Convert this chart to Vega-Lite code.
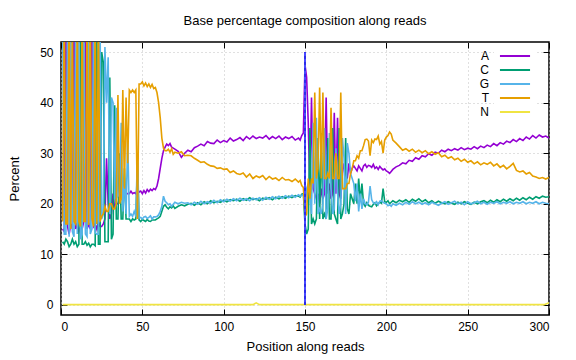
{
"$schema":"https://vega.github.io/schema/vega-lite/v6.json",
"width":488,"height":273,
"autosize":{"type":"none"},
"padding":{"left":61,"top":42,"right":27,"bottom":45},
"title":{"text":"Base percentage composition along reads","fontSize":13,"fontWeight":"normal","font":"Liberation Sans","offset":14,"color":"black"},
"datasets":{
"main":[
{"x":1,"A":15,"C":12.5,"G":56,"T":16.5},
{"x":2,"A":14.5,"C":12,"G":14,"T":59.5},
{"x":3,"A":57,"C":13,"G":14,"T":16},
{"x":4,"A":15.5,"C":12.5,"G":56,"T":16},
{"x":5,"A":14,"C":11.5,"G":13.5,"T":61},
{"x":6,"A":16,"C":12,"G":57,"T":15},
{"x":7,"A":15,"C":13,"G":14.5,"T":57.5},
{"x":8,"A":58,"C":12,"G":13.5,"T":16.5},
{"x":9,"A":15,"C":12.5,"G":56.5,"T":16},
{"x":10,"A":16,"C":11.5,"G":14,"T":58.5},
{"x":11,"A":14.5,"C":12,"G":57,"T":16.5},
{"x":12,"A":15.5,"C":56,"G":13,"T":15.5},
{"x":13,"A":15,"C":12,"G":14,"T":59},
{"x":14,"A":16.5,"C":12,"G":55,"T":16.5},
{"x":15,"A":57,"C":12.5,"G":14,"T":16.5},
{"x":16,"A":15,"C":11.8,"G":13.5,"T":59.7},
{"x":17,"A":16,"C":12.2,"G":56,"T":15.8},
{"x":18,"A":15,"C":11.5,"G":14,"T":59.5},
{"x":19,"A":56,"C":12,"G":15,"T":17},
{"x":20,"A":15.5,"C":12,"G":57,"T":15.5},
{"x":21,"A":16,"C":11.7,"G":14.3,"T":58},
{"x":22,"A":15,"C":55,"G":14,"T":16},
{"x":23,"A":16.5,"C":12,"G":14,"T":57.5},
{"x":24,"A":15.5,"C":12,"G":56,"T":16.5},
{"x":25,"A":15.5,"C":50,"G":17,"T":17.5},
{"x":26,"A":16,"C":48,"G":18,"T":18},
{"x":27,"A":17,"C":12.5,"G":51,"T":19.5},
{"x":28,"A":29,"C":12.5,"G":40,"T":18.5},
{"x":29,"A":20,"C":12.5,"G":49,"T":18.5},
{"x":30,"A":17,"C":45,"G":18,"T":20},
{"x":31,"A":18,"C":13,"G":41,"T":20},
{"x":32,"A":22,"C":14,"G":40,"T":19},
{"x":33,"A":19,"C":39.5,"G":21,"T":19},
{"x":34,"A":20,"C":17,"G":39,"T":20},
{"x":35,"A":20,"C":17,"G":21.5,"T":41.5},
{"x":36,"A":21,"C":30,"G":22,"T":20},
{"x":37,"A":21,"C":17,"G":36,"T":21},
{"x":38,"A":22,"C":17,"G":18.5,"T":42.5},
{"x":39,"A":22,"C":27,"G":25,"T":23},
{"x":40,"A":22,"C":17,"G":18,"T":41},
{"x":41,"A":22,"C":17,"G":33,"T":28},
{"x":42,"A":22,"C":17,"G":17.5,"T":42.5},
{"x":43,"A":22.5,"C":16.5,"G":18,"T":42},
{"x":44,"A":22,"C":17,"G":17.5,"T":42.5},
{"x":45,"A":22.2,"C":16.8,"G":18.5,"T":42},
{"x":46,"A":22,"C":17,"G":17.5,"T":42.5},
{"x":47,"A":23,"C":28,"G":30,"T":17},
{"x":48,"A":22.3,"C":16.8,"G":17.2,"T":43.7},
{"x":49,"A":22.5,"C":16.5,"G":17.3,"T":43.7},
{"x":50,"A":22,"C":16.9,"G":17,"T":44.1},
{"x":51,"A":22.6,"C":16.7,"G":17.4,"T":43.3},
{"x":52,"A":22.1,"C":16.5,"G":17.5,"T":43.9},
{"x":53,"A":22.8,"C":16.9,"G":17.1,"T":43.2},
{"x":54,"A":22.4,"C":16.6,"G":17.3,"T":43.7},
{"x":55,"A":22.9,"C":16.5,"G":17.6,"T":43},
{"x":56,"A":22.6,"C":16.8,"G":17,"T":43.6},
{"x":57,"A":23,"C":16.8,"G":17.4,"T":42.8},
{"x":58,"A":22.8,"C":16.8,"G":17.4,"T":43},
{"x":59,"A":23.5,"C":17,"G":17.5,"T":42},
{"x":60,"A":25,"C":17.2,"G":17.8,"T":40},
{"x":61,"A":27,"C":17.5,"G":18.5,"T":37},
{"x":62,"A":29,"C":18.5,"G":19.5,"T":33},
{"x":63,"A":30.5,"C":19.5,"G":21.5,"T":31},
{"x":64,"A":31.2,"C":19.8,"G":20.5,"T":30.5},
{"x":65,"A":31.8,"C":19.3,"G":20.2,"T":30.5},
{"x":66,"A":31.5,"C":19,"G":19.8,"T":30.8},
{"x":67,"A":31.9,"C":19.4,"G":20,"T":30.2},
{"x":68,"A":31.2,"C":19.2,"G":19.5,"T":30.9},
{"x":69,"A":31,"C":19.6,"G":19.9,"T":29.8},
{"x":70,"A":30.8,"C":19.1,"G":20.3,"T":30.2},
{"x":72,"A":30.4,"C":19.5,"G":20,"T":30},
{"x":74,"A":29.2,"C":19.8,"G":20.3,"T":30.3},
{"x":76,"A":30,"C":19.6,"G":20.1,"T":29.5},
{"x":78,"A":30.6,"C":19.9,"G":20.2,"T":29.6},
{"x":80,"A":30.3,"C":20.1,"G":19.8,"T":29.5},
{"x":82,"A":31.1,"C":19.7,"G":20.3,"T":29},
{"x":84,"A":31.4,"C":20.2,"G":19.9,"T":28.6},
{"x":86,"A":31.8,"C":19.8,"G":20.5,"T":28.2},
{"x":88,"A":31.5,"C":20.4,"G":20,"T":28.3},
{"x":90,"A":32.3,"C":20,"G":20.4,"T":27.8},
{"x":92,"A":32,"C":20.6,"G":20.1,"T":27.5},
{"x":94,"A":31.9,"C":20.2,"G":20.7,"T":27.4},
{"x":96,"A":32.6,"C":20.5,"G":20.2,"T":27},
{"x":98,"A":32.1,"C":20.3,"G":20.8,"T":27.1},
{"x":100,"A":32.5,"C":20.7,"G":20.4,"T":26.8},
{"x":102,"A":32.2,"C":20.4,"G":20.9,"T":26.9},
{"x":104,"A":33,"C":20.8,"G":20.5,"T":26.2},
{"x":106,"A":32.4,"C":20.6,"G":21,"T":26.5},
{"x":108,"A":32.7,"C":20.9,"G":20.6,"T":26},
{"x":110,"A":33.1,"C":20.5,"G":21.1,"T":25.8},
{"x":112,"A":32.5,"C":21,"G":20.7,"T":26.1},
{"x":114,"A":33.3,"C":20.7,"G":21,"T":25.3},
{"x":116,"A":32.8,"C":21.2,"G":20.6,"T":25.9},
{"x":118,"A":33.4,"C":20.8,"G":21.1,"T":25},
{"x":120,"A":32.9,"C":21,"G":20.8,"T":25.5},
{"x":122,"A":33.2,"C":20.6,"G":21.2,"T":25.2},
{"x":124,"A":33,"C":21.1,"G":20.7,"T":25.6},
{"x":126,"A":33.5,"C":20.9,"G":21.3,"T":24.8},
{"x":128,"A":32.8,"C":21.2,"G":20.9,"T":25.4},
{"x":130,"A":33.3,"C":20.8,"G":21.4,"T":24.9},
{"x":132,"A":32.9,"C":21.3,"G":21,"T":25.1},
{"x":134,"A":33.4,"C":21,"G":21.5,"T":24.6},
{"x":136,"A":32.7,"C":21.4,"G":21.1,"T":25.2},
{"x":138,"A":33.2,"C":21.1,"G":21.6,"T":24.7},
{"x":140,"A":32.9,"C":21.5,"G":21.2,"T":24.8},
{"x":142,"A":33.3,"C":21.2,"G":21.7,"T":24.4},
{"x":144,"A":32.6,"C":21.6,"G":21.3,"T":24.9},
{"x":146,"A":33,"C":21.5,"G":21.8,"T":24.3},
{"x":147,"A":32.6,"C":21.3,"G":21.5,"T":24.6},
{"x":148,"A":33.5,"C":21.9,"G":21.7,"T":23.6},
{"x":149,"A":34,"C":22,"G":21.8,"T":23.2},
{"x":150,"A":47.5,"C":16,"G":19,"T":17.5},
{"x":151,"A":45,"C":14,"G":23,"T":18},
{"x":152,"A":36,"C":15,"G":24,"T":25},
{"x":153,"A":22,"C":35,"G":22,"T":21},
{"x":154,"A":41,"C":16,"G":18,"T":25},
{"x":155,"A":23,"C":17,"G":36,"T":24},
{"x":156,"A":22,"C":16,"G":20,"T":42},
{"x":157,"A":21,"C":17,"G":37,"T":25},
{"x":158,"A":22,"C":33,"G":18,"T":27},
{"x":159,"A":20,"C":17,"G":19,"T":43},
{"x":160,"A":23,"C":34,"G":18,"T":25},
{"x":161,"A":21,"C":17,"G":20,"T":42},
{"x":162,"A":22,"C":18,"G":35,"T":25},
{"x":163,"A":41,"C":17,"G":17,"T":25},
{"x":164,"A":22,"C":33,"G":19,"T":26},
{"x":165,"A":24,"C":17,"G":34,"T":25},
{"x":166,"A":21,"C":17,"G":23,"T":39},
{"x":167,"A":22,"C":35,"G":18,"T":25},
{"x":168,"A":38,"C":18,"G":19,"T":25},
{"x":169,"A":22,"C":17,"G":31,"T":30},
{"x":170,"A":37,"C":16,"G":22,"T":25},
{"x":171,"A":22,"C":35,"G":18,"T":25},
{"x":172,"A":21,"C":17,"G":20,"T":42},
{"x":173,"A":26,"C":18,"G":33,"T":23},
{"x":174,"A":28,"C":20,"G":29,"T":23},
{"x":175,"A":26,"C":33,"G":18,"T":23},
{"x":176,"A":25,"C":19,"G":32,"T":24},
{"x":177,"A":28,"C":18,"G":30,"T":24},
{"x":178,"A":26,"C":22,"G":26,"T":26},
{"x":179,"A":27,"C":21,"G":25,"T":27},
{"x":180,"A":27.5,"C":20,"G":24,"T":28.5},
{"x":181,"A":27,"C":24,"G":20.5,"T":28.5},
{"x":182,"A":26.5,"C":20,"G":24,"T":29.5},
{"x":183,"A":27.5,"C":25,"G":18.5,"T":29},
{"x":184,"A":27,"C":20.5,"G":22,"T":30.5},
{"x":185,"A":26.5,"C":24,"G":19,"T":30.5},
{"x":186,"A":27.5,"C":20,"G":21,"T":31.5},
{"x":187,"A":27.8,"C":19.5,"G":20,"T":32.7},
{"x":188,"A":27.2,"C":20.2,"G":19.8,"T":32.8},
{"x":189,"A":27.6,"C":19.7,"G":20.3,"T":32.4},
{"x":190,"A":27.5,"C":19.5,"G":23.5,"T":29.5},
{"x":191,"A":27.2,"C":19.4,"G":20.8,"T":32.6},
{"x":192,"A":27.8,"C":19.9,"G":20.2,"T":32.1},
{"x":193,"A":27,"C":20.2,"G":20,"T":32.8},
{"x":194,"A":27.3,"C":19.6,"G":20.4,"T":32.7},
{"x":195,"A":26.8,"C":20,"G":19.8,"T":33.4},
{"x":196,"A":27.4,"C":20.3,"G":20.5,"T":31.8},
{"x":197,"A":27,"C":20.1,"G":20.6,"T":32.3},
{"x":198,"A":26.7,"C":23,"G":20.3,"T":30},
{"x":199,"A":26.9,"C":20.4,"G":20.1,"T":32.6},
{"x":200,"A":26.5,"C":20.3,"G":20,"T":33.2},
{"x":201,"A":26.3,"C":20.6,"G":19.6,"T":33.5},
{"x":202,"A":26,"C":20,"G":19.8,"T":34.2},
{"x":203,"A":26.4,"C":20.3,"G":19.5,"T":33.8},
{"x":204,"A":26.8,"C":20.6,"G":20,"T":32.6},
{"x":206,"A":27.3,"C":20.2,"G":19.7,"T":32},
{"x":208,"A":27.6,"C":20.7,"G":20.1,"T":31.3},
{"x":210,"A":28.1,"C":20.4,"G":19.8,"T":30.6},
{"x":212,"A":27.9,"C":20.8,"G":20.3,"T":30.9},
{"x":214,"A":28.6,"C":20.3,"G":19.9,"T":30.4},
{"x":216,"A":28.4,"C":20.9,"G":20.4,"T":30.8},
{"x":218,"A":29.1,"C":20.5,"G":20,"T":30.2},
{"x":220,"A":28.8,"C":21,"G":20.3,"T":30.6},
{"x":222,"A":29.5,"C":20.4,"G":19.9,"T":30.1},
{"x":224,"A":29.3,"C":20.8,"G":20.2,"T":30.5},
{"x":226,"A":29.9,"C":20.2,"G":19.8,"T":29.9},
{"x":228,"A":29.6,"C":20.6,"G":20.3,"T":30.3},
{"x":230,"A":30.2,"C":20.1,"G":20,"T":29.8},
{"x":232,"A":30,"C":20.5,"G":19.7,"T":30.1},
{"x":234,"A":30.6,"C":20.2,"G":20.1,"T":29.3},
{"x":236,"A":30.3,"C":20,"G":20.4,"T":29.6},
{"x":238,"A":30.8,"C":20.4,"G":19.9,"T":29},
{"x":240,"A":30.5,"C":20.1,"G":20.2,"T":29.3},
{"x":242,"A":30.9,"C":19.9,"G":20.5,"T":28.7},
{"x":244,"A":30.6,"C":20.3,"G":20,"T":29},
{"x":246,"A":31.1,"C":20,"G":20.3,"T":28.4},
{"x":248,"A":30.7,"C":20.4,"G":19.8,"T":28.8},
{"x":250,"A":31,"C":20.1,"G":20.4,"T":28.2},
{"x":252,"A":30.8,"C":19.9,"G":20,"T":28.5},
{"x":254,"A":31.3,"C":20.3,"G":20.2,"T":27.9},
{"x":256,"A":30.9,"C":20,"G":20.5,"T":28.3},
{"x":258,"A":31.4,"C":20.4,"G":20,"T":27.7},
{"x":260,"A":31.1,"C":20.6,"G":20.3,"T":28.1},
{"x":262,"A":31.6,"C":20.2,"G":19.9,"T":27.8},
{"x":264,"A":31.3,"C":20.7,"G":20.3,"T":28.2},
{"x":266,"A":31.9,"C":20.3,"G":20.1,"T":27.5},
{"x":268,"A":31.5,"C":20.8,"G":20.4,"T":27.9},
{"x":270,"A":32.1,"C":20.4,"G":20,"T":27.2},
{"x":272,"A":31.8,"C":20.9,"G":20.3,"T":27.6},
{"x":274,"A":32.4,"C":20.5,"G":20.1,"T":26.9},
{"x":276,"A":32.1,"C":21,"G":20.4,"T":27.4},
{"x":278,"A":32.7,"C":20.6,"G":20,"T":28},
{"x":280,"A":32.3,"C":21.1,"G":20.3,"T":26.6},
{"x":282,"A":32.9,"C":20.7,"G":20.1,"T":26.3},
{"x":284,"A":32.5,"C":21.2,"G":20.4,"T":26.5},
{"x":286,"A":33.2,"C":20.8,"G":20,"T":25.9},
{"x":288,"A":32.8,"C":21.3,"G":20.3,"T":26.2},
{"x":290,"A":33.5,"C":20.9,"G":20.1,"T":25.5},
{"x":292,"A":33,"C":21.4,"G":20.4,"T":25.3},
{"x":294,"A":33.6,"C":21.1,"G":20,"T":25},
{"x":296,"A":33.2,"C":21.5,"G":20.3,"T":25.2},
{"x":298,"A":33.4,"C":21.3,"G":20.1,"T":24.9},
{"x":300,"A":33,"C":21.4,"G":20,"T":25.2}
],
"n":[
{"x":1,"base":"N","pct":0.05},
{"x":118,"base":"N","pct":0.05},
{"x":120,"base":"N","pct":0.4},
{"x":122,"base":"N","pct":0.05},
{"x":297,"base":"N","pct":0.05},
{"x":300,"base":"N","pct":0.4}
],
"vline":[{"x":150,"y0":0,"y1":50}]
},
"layer":[
{"data":{"name":"main"},
 "transform":[{"fold":["A","C","G","T"],"as":["base","pct"]}],
 "mark":{"type":"line","strokeWidth":1.6,"clip":true},
 "encoding":{
  "x":{"field":"x","type":"quantitative","scale":{"domain":[0,300],"nice":false},
   "axis":{"values":[0,50,100,150,200,250,300],"title":"Position along reads","grid":true,"tickSize":-6,"labelPadding":12,"titlePadding":8,"domain":false}},
  "y":{"field":"pct","type":"quantitative","scale":{"domain":[-2,52],"nice":false},
   "axis":{"values":[0,10,20,30,40,50],"title":"Percent","grid":true,"tickSize":-6,"labelPadding":14,"titlePadding":18,"domain":false}},
  "color":{"field":"base","type":"nominal",
   "scale":{"domain":["A","C","G","T","N"],"range":["#9400d3","#009e73","#56b4e9","#e69f00","#f0e442"]},
   "legend":{"title":null,"orient":"none","legendX":433,"legendY":6,"fillColor":"white","symbolType":"M-2.15,0H2.15","symbolFillColor":"transparent","symbolStrokeWidth":2,"symbolSize":196,"rowPadding":0,"labelFontSize":12,"symbolOffset":13,"labelOffset":-34,"labelAlign":"right","padding":0}}
 }},
{"data":{"name":"n"},
 "mark":{"type":"line","strokeWidth":1.6,"clip":true},
 "encoding":{
  "x":{"field":"x","type":"quantitative","axis":null},
  "y":{"field":"pct","type":"quantitative","axis":null},
  "color":{"field":"base","type":"nominal"}
 }},
{"data":{"name":"vline"},
 "mark":{"type":"rule","color":"#4a4aff","strokeWidth":2},
 "encoding":{
  "x":{"field":"x","type":"quantitative","axis":{"orient":"top","values":[0,50,100,150,200,250,300],"labels":false,"title":null,"grid":false,"tickSize":-6,"domain":false}},
  "y":{"field":"y0","type":"quantitative","axis":{"orient":"right","values":[0,10,20,30,40,50],"labels":false,"title":null,"grid":false,"tickSize":-6,"domain":false}},
  "y2":{"field":"y1"}
 }},
{"data":{"name":"vline"},
 "mark":{"type":"rule","color":"#0000c8","strokeWidth":0.8,"strokeDash":[3,3]},
 "encoding":{
  "x":{"field":"x","type":"quantitative","axis":null},
  "y":{"field":"y0","type":"quantitative","axis":null},
  "y2":{"field":"y1"}
 }}
],
"resolve":{"axis":{"x":"independent","y":"independent"}},
"config":{
 "view":{"stroke":"black","strokeWidth":1.5},
 "font":"Liberation Sans",
 "axis":{"labelFont":"Liberation Sans","titleFont":"Liberation Sans","labelFontSize":12,"titleFontSize":13,"titleFontWeight":"normal","labelColor":"black","titleColor":"black","tickColor":"black","gridColor":"#c0c0c0","gridDash":[1,3],"gridWidth":1},
 "legend":{"labelFont":"Liberation Sans","labelColor":"black"}
}
}
